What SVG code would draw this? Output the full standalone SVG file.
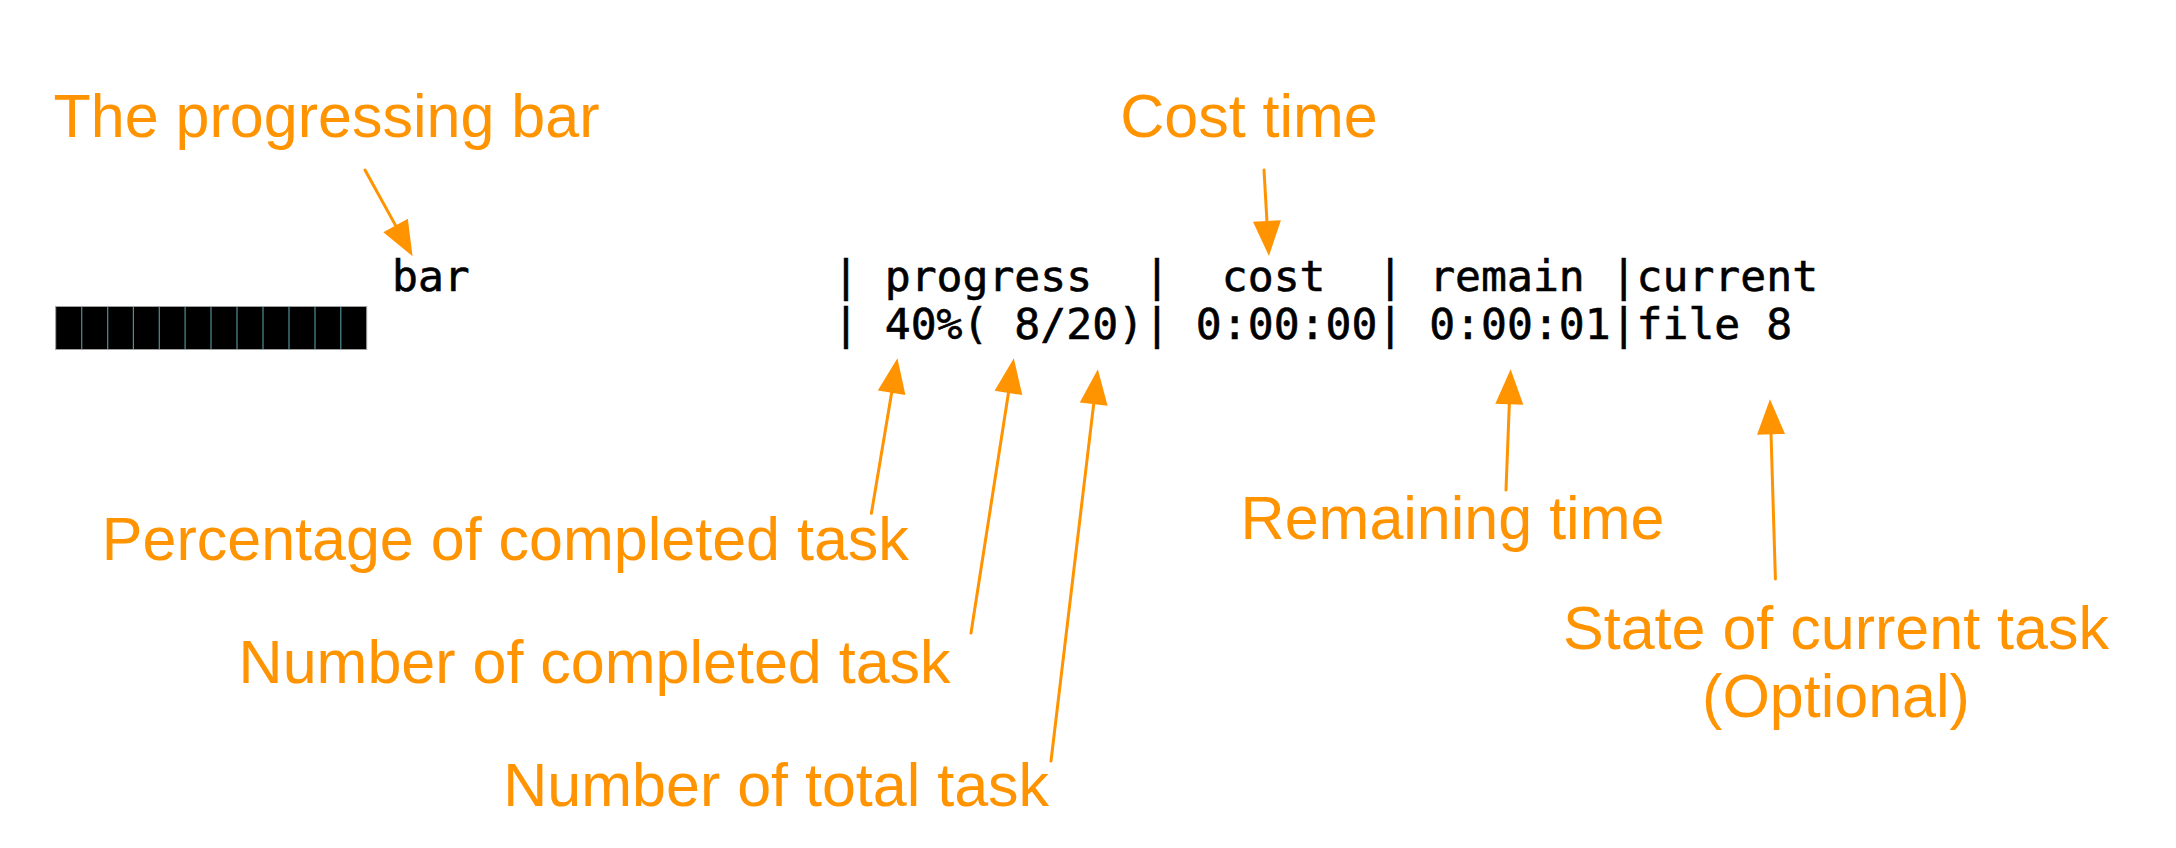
<svg xmlns="http://www.w3.org/2000/svg" width="2176" height="848" viewBox="0 0 2176 848">
<style>
.lbl{font-family:"Liberation Sans",Arial,Helvetica,sans-serif;font-size:61px;fill:#FF9300;text-anchor:middle}
.term{font-family:"DejaVu Sans Mono","Liberation Mono",monospace;font-size:43.07px;fill:#000;stroke:#000;stroke-width:0.6}
.arr{stroke:#FF9300;stroke-width:3;fill:none;stroke-linecap:round;marker-end:url(#head)}
.sep{stroke:#4f8f95;stroke-width:1.2}
</style>
<defs>
<marker id="head" markerUnits="userSpaceOnUse" markerWidth="36" markerHeight="28" refX="1" refY="14" orient="auto" overflow="visible">
<path d="M0,0 L35,14 L0,28 Z" fill="#FF9300"/>
</marker>
</defs>
<rect width="2176" height="848" fill="#fff"/>

<g id="terminal">
<text class="term" x="392" y="291">bar</text>
<text class="term" x="832.9" y="291" xml:space="preserve">| progress  |  cost  | remain |current</text>
<text class="term" x="832.9" y="339" xml:space="preserve">| 40%( 8/20)| 0:00:00| 0:00:01|file 8</text>
<g id="bar-blocks">
<rect x="55.7" y="306.5" width="311" height="43" fill="#000" stroke="#a0a0a0" stroke-width="1"/>
<line class="sep" x1="81.7" y1="307" x2="81.7" y2="349"/>
<line class="sep" x1="107.7" y1="307" x2="107.7" y2="349"/>
<line class="sep" x1="133.4" y1="307" x2="133.4" y2="349"/>
<line class="sep" x1="159.3" y1="307" x2="159.3" y2="349"/>
<line class="sep" x1="185.1" y1="307" x2="185.1" y2="349"/>
<line class="sep" x1="211" y1="307" x2="211" y2="349"/>
<line class="sep" x1="237" y1="307" x2="237" y2="349"/>
<line class="sep" x1="263" y1="307" x2="263" y2="349"/>
<line class="sep" x1="289" y1="307" x2="289" y2="349"/>
<line class="sep" x1="315" y1="307" x2="315" y2="349"/>
<line class="sep" x1="340.8" y1="307" x2="340.8" y2="349"/>
</g>
</g>

<g id="label-bar"><text class="lbl" x="326.5" y="137">The progressing bar</text></g>
<g id="label-cost"><text class="lbl" x="1249" y="137">Cost time</text></g>
<g id="label-percentage"><text class="lbl" x="505.3" y="560">Percentage of completed task</text></g>
<g id="label-completed"><text class="lbl" x="594.6" y="683">Number of completed task</text></g>
<g id="label-total"><text class="lbl" x="776.2" y="806">Number of total task</text></g>
<g id="label-remaining"><text class="lbl" x="1452.5" y="538.5">Remaining time</text></g>
<g id="label-state"><text class="lbl" x="1836" y="648.5">State of current task</text><text class="lbl" x="1836" y="717">(Optional)</text></g>

<g id="connectors">
<line class="arr" x1="365" y1="170" x2="396.1" y2="226.4"/>
<line class="arr" x1="1264" y1="170" x2="1267" y2="222"/>
<line class="arr" x1="871.4" y1="513.3" x2="891.8" y2="391.8"/>
<line class="arr" x1="971" y1="633" x2="1008.6" y2="391.9"/>
<line class="arr" x1="1051" y1="761" x2="1093.8" y2="403.1"/>
<line class="arr" x1="1506" y1="490" x2="1509.35" y2="403.3"/>
<line class="arr" x1="1775.4" y1="579" x2="1771" y2="433.3"/>
</g>
</svg>
